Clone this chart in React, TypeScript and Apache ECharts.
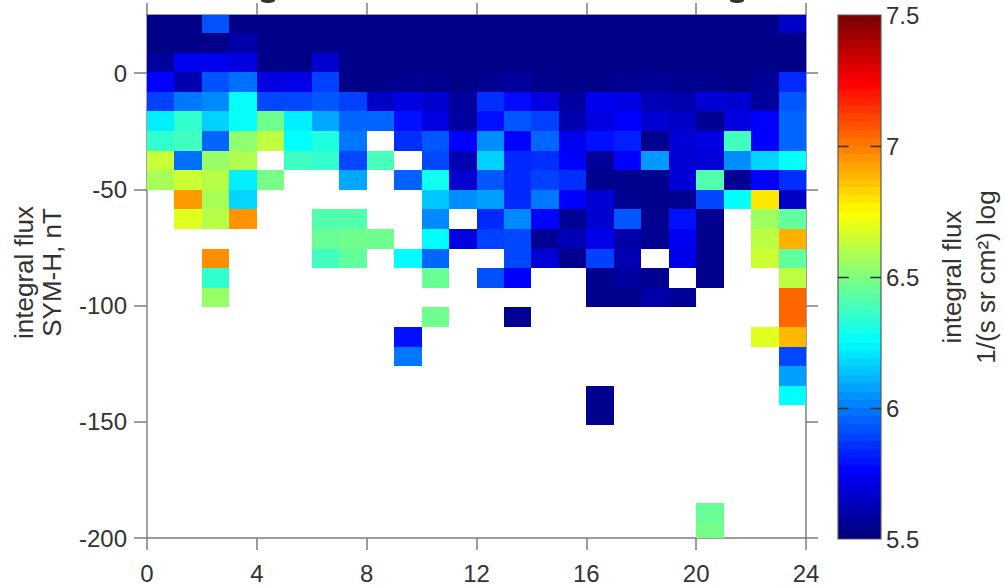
import React, { useEffect, useRef } from "react";
import * as echarts from "echarts";

const n = null;
const N = 5.52; // deep navy level
// Binned log flux, one list per SYM-H bin from the top of the plot downward; each has 24 MLT hours.
const row00 = [N, N, 5.91, N, N, N, N, N, N, N, N, N, N, N, N, N, N, N, N, N, N, N, N, 5.64];
const row01 = [N, N, N, 5.58, N, N, N, N, N, N, N, N, N, N, N, N, N, N, N, N, N, N, N, N];
const row02 = [5.56, 5.72, 5.72, 5.69, N, N, 5.66, N, N, N, N, N, N, N, N, N, N, N, N, N, N, N, N, N];
const row03 = [5.75, 5.595, 5.91, 5.97, 5.69, 5.705, 5.875, N, N, 5.54, 5.53, N, 5.54, 5.56, 5.53, N, N, 5.54, 5.55, 5.53, 5.53, N, 5.55, 5.83];
const row04 = [5.875, 5.985, 6.02, 6.26, 5.89, 5.89, 5.92, 5.875, 5.64, 5.69, 5.66, 5.56, 5.84, 5.77, 5.69, 5.56, 5.72, 5.705, 5.61, 5.595, 5.67, 5.66, 5.56, 5.92];
const row05 = [6.22, 6.345, 6.16, 6.26, 6.47, 6.22, 6.08, 5.95, 5.95, 5.78, 5.69, 5.56, 5.78, 5.92, 5.875, 5.595, 5.69, 5.75, 5.66, 5.64, 5.54, 5.69, 5.75, 5.95];
const row06 = [6.345, 6.375, 5.95, 6.53, 6.625, 6.25, 6.31, 5.985, n, 5.84, 5.92, 5.75, 6.03, 5.75, 5.95, 5.72, 5.78, 5.81, 5.53, 5.67, 5.69, 6.375, 5.75, 5.95];
const row07 = [6.64, 5.97, 6.55, 6.595, n, 6.37, 6.35, 5.89, 6.39, n, 5.89, 5.595, 6.16, 5.83, 5.84, 5.75, 5.55, 5.75, 6.05, 5.67, 5.67, 6.03, 6.17, 6.26];
const row08 = [6.58, 6.65, 6.61, 6.22, 6.485, n, n, 6.08, n, 5.94, 6.28, 5.66, 5.92, 5.83, 5.875, 5.84, 5.53, 5.53, 5.53, 5.67, 6.41, 5.54, 5.75, 5.84];
const row09 = [n, 6.95, 6.58, 6.17, n, n, n, n, n, n, 6.14, 6.03, 6.06, 5.83, 5.985, 5.75, 5.67, 5.54, 5.53, 5.54, 5.89, 6.25, 6.795, 5.64];
const row10 = [n, 6.69, 6.61, 6.96, n, n, 6.41, 6.41, n, n, 6.02, n, 5.83, 6.02, 5.75, 5.54, 5.66, 5.92, 5.53, 5.78, 5.53, n, 6.56, 6.44];
const row11 = [n, n, n, n, n, n, 6.455, 6.47, 6.47, n, 6.25, 5.69, 5.875, 5.89, 5.54, 5.61, 5.705, 5.58, 5.54, 5.72, 5.53, n, 6.62, 6.905];
const row12 = [n, n, 6.97, n, n, n, 6.375, 6.44, n, 6.25, 5.95, n, n, 5.89, 5.67, 5.53, 5.875, 5.6, n, 5.705, 5.53, n, 6.65, 6.44];
const row13 = [n, n, 6.345, n, n, n, n, n, n, n, 6.455, n, 5.91, 5.75, n, n, 5.53, 5.56, 5.54, n, 5.53, n, n, 6.62];
const row14 = [n, n, 6.55, n, n, n, n, n, n, n, n, n, n, n, n, n, 5.53, 5.53, 5.58, 5.55, n, n, n, 7.05];
const row15 = [n, n, n, n, n, n, n, n, n, n, 6.47, n, n, 5.54, n, n, n, n, n, n, n, n, n, 7.05];
const row16 = [n, n, n, n, n, n, n, n, n, 5.78, n, n, n, n, n, n, n, n, n, n, n, n, 6.69, 6.89];
const row17 = [n, n, n, n, n, n, n, n, n, 5.985, n, n, n, n, n, n, n, n, n, n, n, n, n, 5.89];
const row18 = [n, n, n, n, n, n, n, n, n, n, n, n, n, n, n, n, n, n, n, n, n, n, n, 6.06];
const row19 = [n, n, n, n, n, n, n, n, n, n, n, n, n, n, n, n, 5.53, n, n, n, n, n, n, 6.25];
const row20 = [n, n, n, n, n, n, n, n, n, n, n, n, n, n, n, n, 5.53, n, n, n, n, n, n, n];
const row25 = [n, n, n, n, n, n, n, n, n, n, n, n, n, n, n, n, n, n, n, n, 6.455, n, n, n];
const row26 = [n, n, n, n, n, n, n, n, n, n, n, n, n, n, n, n, n, n, n, n, 6.48, n, n, n];
const empty: (number | null)[] = [];
const fluxRows = [
  row00, row01, row02, row03, row04, row05, row06, row07, row08, row09,
  row10, row11, row12, row13, row14, row15, row16, row17, row18, row19,
  row20, empty, empty, empty, empty, row25, row26,
];

const symMax = 25;
const symMin = -200;
const symFirstEdge = 17.25; // lower edge of the top bin, nT
const symBin = 8.43;
const fluxMin = 5.5;
const fluxMax = 7.5;
const barLevelCount = 64; // the colour table of the colour bar
const xTicks = [0, 4, 8, 12, 16, 20, 24];
const yTicks = [-200, -150, -100, -50, 0];
const barTicks = [6, 6.5, 7];
const jet = ["#00007f", "#0000ff", "#007fff", "#00ffff", "#7fff7f", "#ffff00", "#ff7f00", "#ff0000", "#7f0000"];

const cells: number[][] = [];
fluxRows.forEach((row, r) => {
  row.forEach((v, hour) => {
    if (v !== null) cells.push([hour, r, v]);
  });
});
const barLevels: number[][] = Array.from({ length: barLevelCount }, (_, i) => [0, i]);

const GRAY = "#7c7c7c";
const TEXT = "#333333";

export default function App() {
  const ref = useRef<HTMLDivElement>(null);
  useEffect(() => {
    document.body.style.margin = "0";
    const chart = echarts.init(ref.current!, null, { renderer: "svg" });
    const font = "Liberation Sans";
    chart.setOption({
      animation: false,
      backgroundColor: "#ffffff",
      textStyle: { fontFamily: font },
      grid: [
        { left: 147, top: 15, width: 659, height: 523, outerBoundsMode: "none" },
        { left: 838, top: 15, width: 43, height: 524, outerBoundsMode: "none" },
      ],
      graphic: [
        { type: "ellipse", shape: { cx: 268, cy: 0.5, rx: 7, ry: 2.5 }, style: { fill: "#333333" }, silent: true },
        { type: "ellipse", shape: { cx: 737, cy: 0.5, rx: 7, ry: 2.5 }, style: { fill: "#333333" }, silent: true },
      ],
      xAxis: [
        {
          gridIndex: 0, type: "value", min: 0, max: 24, interval: 4, position: "bottom",
          splitLine: { show: false },
          axisLine: { show: true, onZero: false, lineStyle: { color: GRAY, width: 1.5 } },
          axisTick: { show: true, length: 12, lineStyle: { color: GRAY, width: 1.5 }, customValues: xTicks },
          axisLabel: { fontSize: 24, color: TEXT, margin: 23, customValues: xTicks, showMinLabel: true, showMaxLabel: true },
        },
        {
          gridIndex: 0, type: "value", min: 0, max: 24, interval: 4, position: "top",
          splitLine: { show: false },
          axisLine: { show: true, onZero: false, lineStyle: { color: GRAY, width: 1.5 } },
          axisTick: { show: true, length: 12, lineStyle: { color: GRAY, width: 1.5 }, customValues: xTicks },
          axisLabel: { show: false },
        },
        { gridIndex: 1, type: "value", min: 0, max: 1, show: false },
      ],
      yAxis: [
        {
          gridIndex: 0, type: "value", min: symMin, max: symMax, position: "left",
          splitLine: { show: false },
          axisLine: { show: true, onZero: false, lineStyle: { color: "#a4a4a4", width: 2 } },
          axisTick: { show: true, length: 13, lineStyle: { color: GRAY, width: 1.5 }, customValues: yTicks },
          axisLabel: { fontSize: 24, color: TEXT, margin: 20, customValues: yTicks },
          name: "integral flux\nSYM-H, nT",
          nameLocation: "middle",
          nameRotate: 90,
          nameGap: 81,
          nameTextStyle: { fontSize: 26, color: TEXT, lineHeight: 28, align: "center", padding: [0, 0, 0, 8] },
        },
        {
          gridIndex: 0, type: "value", min: symMin, max: symMax, position: "right",
          splitLine: { show: false },
          axisLine: { show: true, onZero: false, lineStyle: { color: GRAY, width: 1.5 } },
          axisTick: { show: true, length: 12, lineStyle: { color: GRAY, width: 1.5 }, customValues: yTicks },
          axisLabel: { show: false },
        },
        {
          gridIndex: 1, type: "value", min: fluxMin, max: fluxMax, interval: 0.5, position: "right",
          splitLine: { show: false },
          axisLine: { show: false },
          axisTick: { show: false },
          axisLabel: { fontSize: 24, color: TEXT, margin: 5 },
          name: "integral flux\n1/(s sr cm²) log",
          nameLocation: "middle",
          nameRotate: 90,
          nameGap: 54,
          nameTextStyle: { fontSize: 26, color: TEXT, lineHeight: 34, align: "center" },
        },
      ],
      visualMap: {
        type: "continuous",
        seriesIndex: 0,
        dimension: 2,
        min: fluxMin,
        max: fluxMax,
        show: false,
        inRange: { color: jet },
      },
      series: [
        {
          type: "custom",
          xAxisIndex: 0,
          yAxisIndex: 0,
          data: cells,
          encode: { x: 0 },
          clip: true,
          z: 1,
          renderItem: (_p: any, api: any) => {
            const h = api.value(0) as number;
            const r = api.value(1) as number;
            const top = Math.min(symMax, symFirstEdge - (r - 1) * symBin);
            const bottom = Math.max(symMin, symFirstEdge - r * symBin);
            const a = api.coord([h, top]);
            const b = api.coord([h + 1, bottom]);
            const x0 = Math.round(a[0]);
            const y0 = Math.round(a[1]);
            return {
              type: "rect",
              shape: { x: x0, y: y0, width: Math.round(b[0]) - x0, height: Math.round(b[1]) - y0 },
              style: { fill: api.visual("color") },
            };
          },
        },
        {
          // colour bar: 64 flat colour levels
          type: "custom",
          xAxisIndex: 2,
          yAxisIndex: 2,
          data: barLevels,
          encode: { x: 0 },
          silent: true,
          z: 2,
          renderItem: (_p: any, api: any) => {
            const i = api.value(1) as number;
            const step = (fluxMax - fluxMin) / barLevelCount;
            const a = api.coord([0, fluxMin + (i + 1) * step]);
            const b = api.coord([1, fluxMin + i * step]);
            const y0 = Math.round(a[1]);
            return {
              type: "rect",
              shape: { x: a[0], y: y0, width: b[0] - a[0], height: Math.round(b[1]) - y0 },
              style: { fill: echarts.color.lerp(i / (barLevelCount - 1), jet) },
            };
          },
        },
        {
          // colour bar frame
          type: "custom",
          xAxisIndex: 2,
          yAxisIndex: 2,
          data: [[0, fluxMin]],
          encode: { x: 0, y: 1 },
          silent: true,
          z: 3,
          renderItem: (_p: any, api: any) => {
            const a = api.coord([0, fluxMax]);
            const b = api.coord([1, fluxMin]);
            return {
              type: "rect",
              shape: { x: a[0], y: a[1], width: b[0] - a[0], height: b[1] - a[1] },
              style: { fill: "none", stroke: "#5a5a5a", lineWidth: 1.2 },
            };
          },
        },
        {
          // colour bar ticks, inside both edges
          type: "custom",
          xAxisIndex: 2,
          yAxisIndex: 2,
          data: barTicks.map((v) => [0, v]),
          encode: { x: 0, y: 1 },
          z: 4,
          silent: true,
          renderItem: (_p: any, api: any) => {
            const v = api.value(1) as number;
            const l0 = api.coord([0, v]);
            const l1 = api.coord([0.25, v]);
            const r0 = api.coord([0.75, v]);
            const r1 = api.coord([1, v]);
            const y = Math.round(l0[1]) + 0.5;
            const style = { stroke: "#333333", lineWidth: 1.5, fill: "none" };
            return {
              type: "group",
              children: [
                { type: "line", shape: { x1: l0[0], y1: y, x2: l1[0], y2: y }, style },
                { type: "line", shape: { x1: r0[0], y1: y, x2: r1[0], y2: y }, style },
              ],
            };
          },
        },
      ],
    });
    return () => chart.dispose();
  }, []);
  return <div ref={ref} style={{ width: 1005, height: 587 }} />;
}
